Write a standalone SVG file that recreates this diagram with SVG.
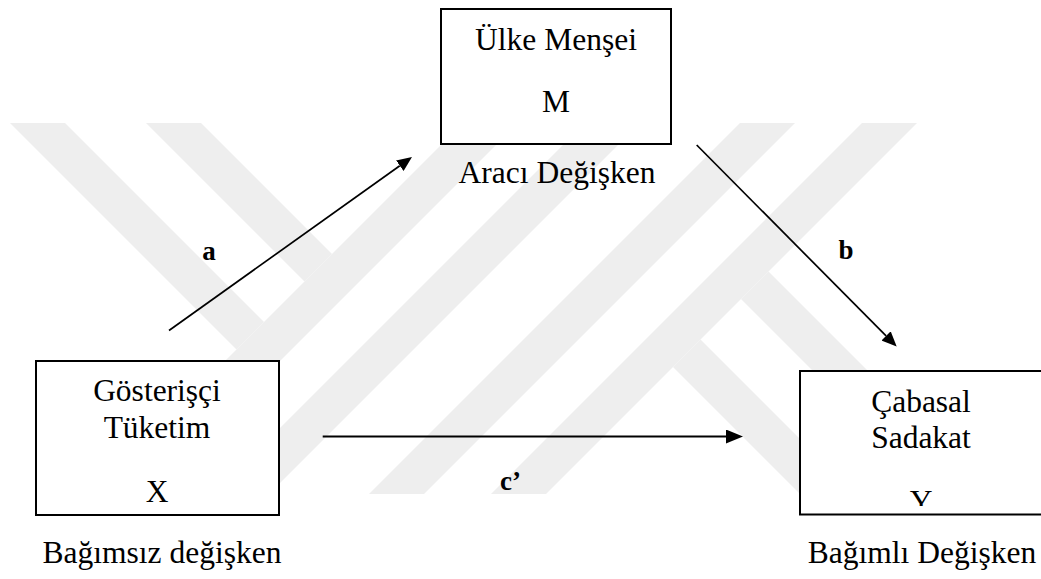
<svg xmlns="http://www.w3.org/2000/svg" width="1041" height="579" viewBox="0 0 1041 579">
  <style>
    .box { fill: #ffffff; stroke: #000000; stroke-width: 2; }
    .txt { font-family: "Liberation Serif", "Times New Roman", serif; font-size: 31.5px; fill: #000000; text-anchor: middle; }
    .lbl { font-family: "Liberation Serif", "Times New Roman", serif; font-size: 27px; font-weight: bold; fill: #000000; }
    .wire { fill: none; stroke: #000000; stroke-width: 1.7; }
    .wire-h { fill: none; stroke: #000000; stroke-width: 2; }
    .band { fill: #eeeeee; }
  </style>
  <defs>
    <marker id="head" markerUnits="userSpaceOnUse" markerWidth="15" markerHeight="13" refX="0" refY="6.5" orient="auto">
      <path d="M0,0 L15,6.5 L0,13 Z" fill="#000000"/>
    </marker>
    <marker id="head-lg" markerUnits="userSpaceOnUse" markerWidth="17" markerHeight="14" refX="0" refY="7" orient="auto">
      <path d="M0,0 L17,7 L0,14 Z" fill="#000000"/>
    </marker>
    <clipPath id="clip-y">
      <rect x="801" y="372" width="240" height="134"/>
    </clipPath>
  </defs>

  <rect x="0" y="0" width="1041" height="579" fill="#ffffff"/>

  <!-- faint background emblem made of diagonal bands -->
  <g id="emblem">
    <polygon class="band" points="10,123 65,123 264,322 236.5,349.5"/>
    <polygon class="band" points="146,123 201,123 332,254 304.5,281.5"/>
    <polygon class="band" points="463,123 518,123 147,494 92,494"/>
    <polygon class="band" points="585,123 640,123 269,494 214,494"/>
    <polygon class="band" points="740,123 795,123 424,494 369,494"/>
    <polygon class="band" points="862,123 917,123 546,494 491,494"/>
    <polygon class="band" points="673,367 700.5,339.5 855,494 800,494"/>
    <polygon class="band" points="741,299 768.5,271.5 991,494 936,494"/>
  </g>

  <!-- mediator -->
  <g id="node-m">
    <rect class="box" x="441" y="9" width="230" height="135"/>
    <text class="txt" x="556" y="50">Ülke Menşei</text>
    <text class="txt" x="556" y="112">M</text>
    <text class="txt" x="557" y="183">Aracı Değişken</text>
  </g>

  <!-- independent variable -->
  <g id="node-x">
    <rect class="box" x="36" y="361" width="243" height="154"/>
    <text class="txt" x="157" y="401">Gösterişçi</text>
    <text class="txt" x="157" y="438">Tüketim</text>
    <text class="txt" x="157" y="502">X</text>
    <text class="txt" x="162" y="563">Bağımsız değişken</text>
  </g>

  <!-- dependent variable -->
  <g id="node-y">
    <rect class="box" x="800" y="371" width="242" height="143.5"/>
    <text class="txt" x="921" y="412">Çabasal</text>
    <text class="txt" x="921" y="448">Sadakat</text>
    <text class="txt" x="921" y="512" clip-path="url(#clip-y)">Y</text>
    <text class="txt" x="922" y="563">Bağımlı Değişken</text>
  </g>

  <!-- paths a, b and c' -->
  <g id="connectors">
    <line class="wire" x1="169" y1="330.5" x2="399.8" y2="165.7" marker-end="url(#head)"/>
    <line class="wire" x1="696.7" y1="145" x2="886.1" y2="335.9" marker-end="url(#head)"/>
    <line class="wire-h" x1="322.7" y1="436.5" x2="726" y2="436.5" marker-end="url(#head-lg)"/>
    <text class="lbl" x="209" y="260" text-anchor="middle">a</text>
    <text class="lbl" x="846" y="259" text-anchor="middle">b</text>
    <text class="lbl" x="500" y="490">c’</text>
  </g>
</svg>
